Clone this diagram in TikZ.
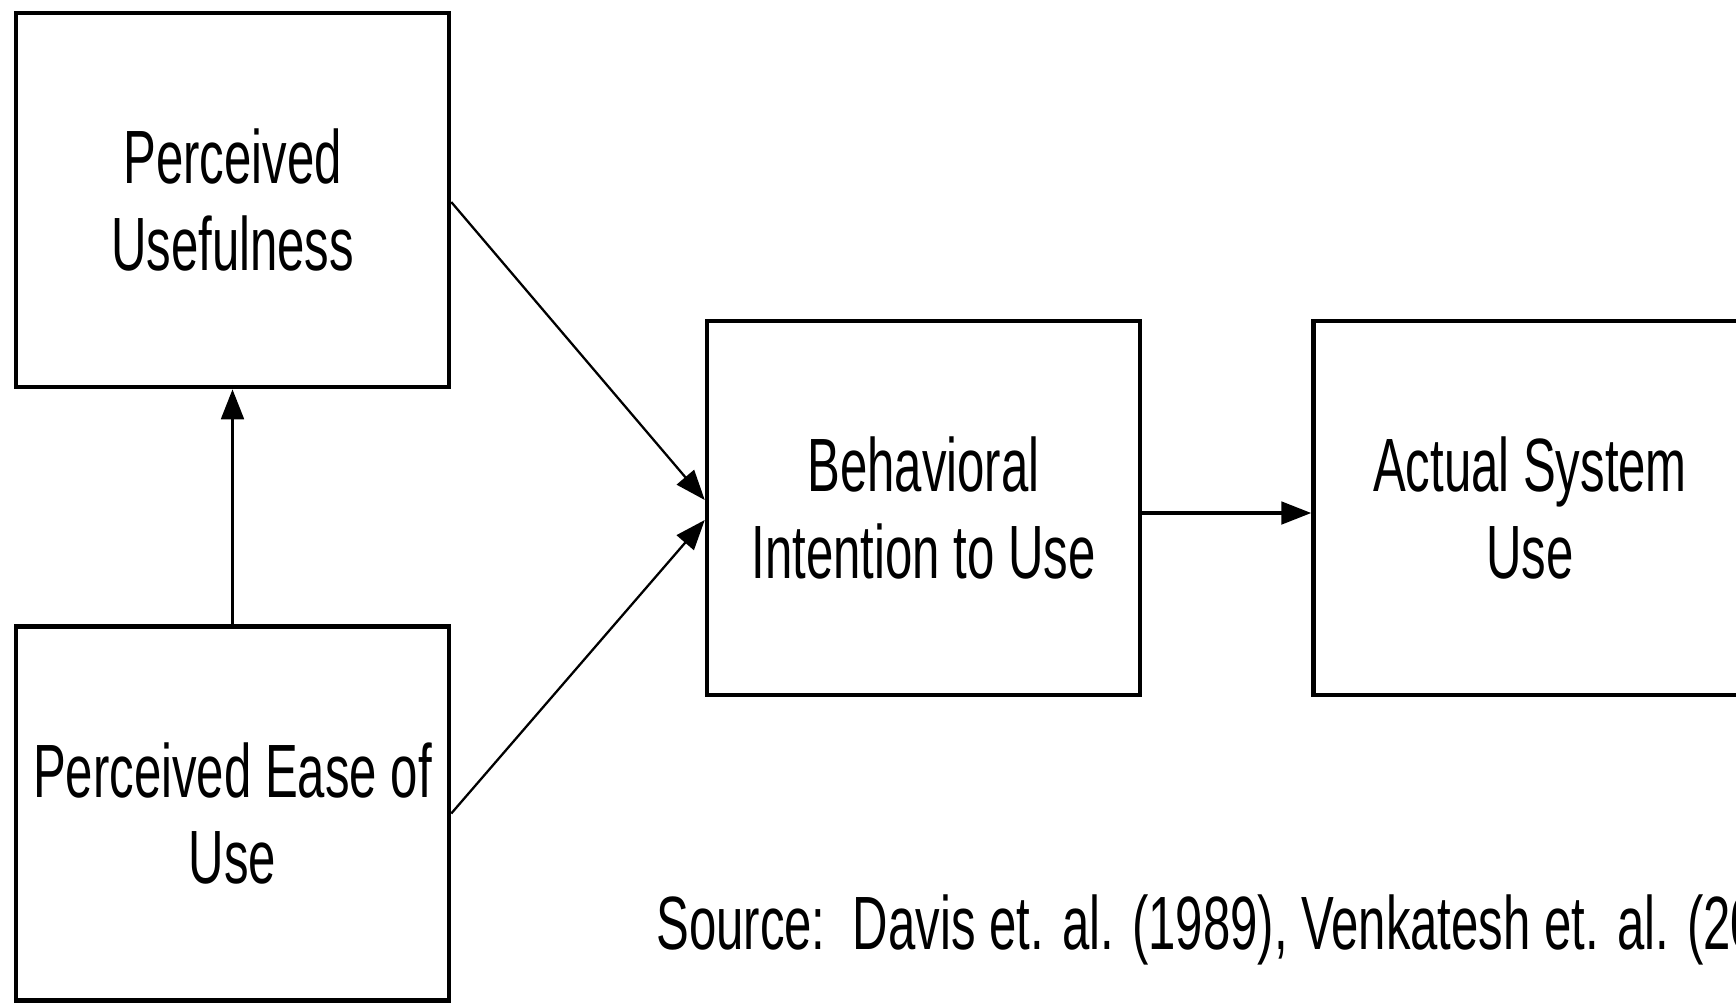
\documentclass[tikz,border=0pt]{standalone}
\usepackage{fontspec}
\setmainfont[FakeStretch=0.65]{Liberation Sans}
\usetikzlibrary{arrows.meta,positioning}

\tikzset{
  construct/.style={draw=black, line width=2.6pt, minimum width=8.66cm,
    minimum height=7.48cm, inner sep=0pt, align=center,
    font=\fontsize{43}{49}\selectfont},
  link/.style={black, line width=2pt,
    -{Triangle[length=0.6cm, width=0.45cm]}},
}

\begin{document}
\begin{tikzpicture}[x=0.02cm, y=-0.02cm]
  \useasboundingbox (0,0) rectangle (1736,1002);
  \clip (0,0) rectangle (1736,1002);

  % ---- Constructs ----
  \node[construct] (pu)   at (232.5,200)   {Perceived\\Usefulness};
  \node[construct] (peou) at (232.5,813.5) {Perceived Ease of\\Use};
  \node[construct] (bi)   at (923.5,508)   {Behavioral\\Intention to Use};
  \node[construct] (asu)  at (1530,508)    {Actual System\\Use};

  % ---- Paths ----
  \draw[link] (peou.north) -- (pu.south);
  \draw[link, line width=1.3pt] ([yshift=-0.04cm]pu.east) -- ([yshift=0.16cm]bi.west);
  \draw[link, line width=1.3pt] (peou.east) -- ([yshift=-0.24cm]bi.west);
  \draw[link] ([yshift=-0.1cm]bi.east) -- ([yshift=-0.1cm]asu.west);

  % ---- Source note ----
  \node[anchor=west, inner sep=0pt, font=\fontsize{43}{49}\selectfont] (src)
    at (656,930) {Source:\ \ Davis et. al. (1989), Venkatesh et. al. (2003)};

\end{tikzpicture}
\end{document}
